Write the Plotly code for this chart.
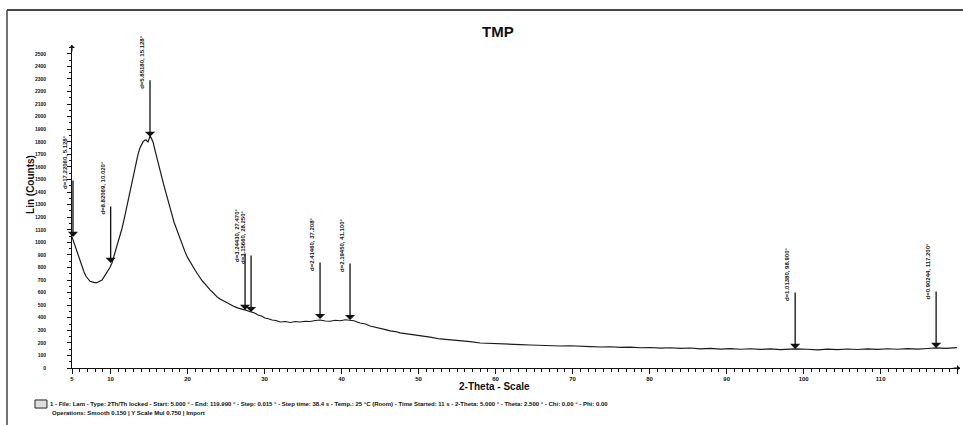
import plotly.graph_objects as go

# ---- data (2-Theta in degrees, intensity in counts) ----
two_theta = [5.00, 5.26, 5.52, 5.78, 6.04, 6.30, 6.56, 6.82, 7.08, 7.34, 7.60, 7.86, 8.12, 8.38,
             8.64, 8.90, 9.16, 9.42, 9.68, 9.94, 10.19, 10.45, 10.71, 10.97, 11.23, 11.49, 11.75,
             12.01, 12.27, 12.53, 12.79, 13.05, 13.31, 13.57, 13.83, 14.03, 14.22, 14.42, 14.61,
             14.74, 14.87, 15.00, 15.13, 15.32, 15.52, 15.71, 15.91, 16.17, 16.43, 16.69, 16.95,
             17.21, 17.47, 17.73, 17.99, 18.25, 18.51, 18.77, 19.03, 19.36, 19.68, 20.00, 20.32,
             20.65, 20.97, 21.30, 21.62, 21.95, 22.27, 22.60, 22.92, 23.25, 23.57, 23.90, 24.22,
             24.55, 24.87, 25.20, 25.52, 25.85, 26.17, 26.50, 26.82, 27.15, 27.47, 27.86, 28.25,
             28.70, 29.16, 29.60, 30.06, 30.50, 30.97, 31.50, 32.01, 32.70, 33.31, 34.00, 34.61,
             35.30, 35.91, 36.60, 37.21, 37.90, 38.51, 39.20, 39.81, 40.50, 41.10, 41.60, 42.40,
             43.10, 43.70, 44.40, 45.00, 45.70, 46.30, 47.00, 47.60, 48.90, 50.20, 51.50, 52.80,
             54.10, 55.40, 56.70, 58.00, 59.30, 60.60, 61.90, 63.20, 64.50, 65.80, 67.10, 68.40,
             69.70, 71.00, 72.30, 73.60, 74.90, 76.20, 77.50, 78.80, 80.10, 81.40, 82.70, 84.00,
             85.30, 86.60, 87.90, 89.20, 90.50, 91.80, 93.10, 94.40, 95.70, 97.00, 98.30, 98.90,
             100.50, 101.80, 103.10, 104.40, 105.70, 107.00, 108.30, 109.60, 110.90, 112.20,
             113.50, 114.80, 116.10, 117.20, 118.50, 119.90]
counts = [1043, 995, 940, 890, 844, 800, 764, 730, 709, 690, 685, 680, 677, 684,
          693, 700, 725, 748, 780, 802, 836, 890, 940, 990, 1051, 1110, 1178, 1255,
          1338, 1420, 1497, 1575, 1640, 1700, 1752, 1780, 1799, 1812, 1815, 1806,
          1799, 1822, 1847, 1825, 1799, 1750, 1696, 1636, 1576, 1510, 1449, 1385,
          1322, 1268, 1218, 1160, 1115, 1066, 1019, 972, 924, 880, 844, 806,
          780, 748, 717, 690, 669, 641, 621, 603, 581, 562, 549, 538,
          525, 515, 502, 494, 486, 478, 470, 466, 462, 452, 446,
          438, 422, 414, 398, 392, 382, 378, 366, 370, 362, 370, 366,
          372, 370, 378, 382, 374, 372, 380, 376, 384, 382, 376, 358,
          350, 334, 322, 311, 305, 295, 290, 279, 270, 255, 246, 231,
          225, 215, 210, 199, 197, 191, 188, 186, 183, 180, 178, 175,
          177, 171, 170, 167, 169, 164, 166, 161, 163, 158, 161, 156,
          159, 152, 156, 150, 154, 149, 153, 148, 152, 146, 150, 152,
          149, 145, 150, 146, 151, 147, 152, 148, 153, 149,
          154, 150, 155, 160, 156, 162]

# ---- peak markers ----
peak_2theta = [5.128, 10.020, 15.128, 27.470, 28.250, 37.208, 41.100, 98.900, 117.200]
peak_counts = [1043, 836, 1839, 462, 446, 390, 382, 152, 160]
peak_labels = ["d=17.22060, 5.128°", "d=8.82069, 10.020°", "d=5.85180, 15.128°",
               "d=3.24430, 27.470°", "d=3.15660, 28.250°", "d=2.41460, 37.208°",
               "d=2.19450, 41.100°", "d=1.01380, 98.900°", "d=0.90244, 117.200°"]

# ---- axes ticks ----
x_tickvals = [5, 10, 20, 30, 40, 50, 60, 70, 80, 90, 100, 110, 120]
x_ticktext = [str(v) for v in x_tickvals]
y_tickvals = list(range(0, 2600, 100))
y_ticktext = [str(v) for v in y_tickvals]

footer1 = ("1 - File: Lam - Type: 2Th/Th locked - Start: 5.000 ° - End: 119.990 ° - Step: 0.015 ° - "
           "Step time: 38.4 s - Temp.: 25 °C (Room) - Time Started: 11 s - 2-Theta: 5.000 ° - "
           "Theta: 2.500 ° - Chi: 0.00 ° - Phi: 0.00")
footer2 = "Operations: Smooth 0.150 | Y Scale Mul 0.750 | Import"

FONT = "Liberation Sans"

fig = go.Figure()
fig.add_trace(go.Scatter(x=two_theta, y=counts, mode="lines",
                         line=dict(color="#1a1a1a", width=1.2), hoverinfo="skip",
                         showlegend=False))

annotations = []
for xv, yv, lab in zip(peak_2theta, peak_counts, peak_labels):
    annotations.append(dict(x=xv, y=yv, xref="x", yref="y", text="", showarrow=True,
                            ax=0, ay=-58, arrowhead=1, arrowsize=1.3, arrowwidth=1.3,
                            arrowcolor="#111", standoff=0))
    annotations.append(dict(x=xv, y=yv, xref="x", yref="y", text=lab, showarrow=False,
                            textangle=-90, xanchor="right", yanchor="bottom",
                            xshift=-3, yshift=46,
                            font=dict(family=FONT, size=6, color="#111", weight="bold")))

# y-axis top arrow and x-axis end arrow
annotations.append(dict(x=0, y=1, xref="paper", yref="paper", text="", showarrow=True,
                        ax=0, ay=8, arrowhead=1, arrowsize=1, arrowwidth=1, arrowcolor="#111"))
annotations.append(dict(x=1, y=0, xref="paper", yref="paper", text="", showarrow=True,
                        ax=-8, ay=0, arrowhead=1, arrowsize=1, arrowwidth=1, arrowcolor="#111"))

# axis titles
annotations.append(dict(x=-0.0545, y=0.567, xref="paper", yref="paper", text="<b>Lin (Counts)</b>",
                        showarrow=False, textangle=-90,
                        font=dict(family=FONT, size=10, color="#111")))
annotations.append(dict(x=0.476, y=-0.079, xref="paper", yref="paper", text="<b>2-Theta - Scale</b>",
                        showarrow=False, font=dict(family=FONT, size=10, color="#111")))
# footer
annotations.append(dict(x=-0.027, y=-0.111, xref="paper", yref="paper", text="<b>" + footer1 + "</b>",
                        showarrow=False, xanchor="left", yanchor="middle",
                        font=dict(family=FONT, size=6, color="#111")))
annotations.append(dict(x=-0.025, y=-0.139, xref="paper", yref="paper", text="<b>" + footer2 + "</b>",
                        showarrow=False, xanchor="left", yanchor="middle",
                        font=dict(family=FONT, size=6, color="#111")))

shapes = [
    # outer frame: top and left lines
    dict(type="line", xref="paper", yref="paper", x0=-0.0732, x1=1.01, y0=1.1084, y1=1.1084,
         line=dict(color="#444", width=2)),
    dict(type="line", xref="paper", yref="paper", x0=-0.0732, x1=-0.0732, y0=1.1084, y1=-0.19,
         line=dict(color="#444", width=1.5)),
    # footer icon box
    dict(type="rect", xref="paper", yref="paper", x0=-0.0417, x1=-0.0282, y0=-0.099, y1=-0.124,
         line=dict(color="#222", width=1), fillcolor="#ddd"),
]

fig.update_layout(
    width=963, height=425,
    margin=dict(l=72, r=3, t=45, b=57),
    paper_bgcolor="white", plot_bgcolor="white",
    title=dict(text="<b>TMP</b>", x=0.517, xanchor="center", y=0.925, yanchor="middle",
               font=dict(family=FONT, size=15, color="#111")),
    annotations=annotations, shapes=shapes, showlegend=False,
)
fig.update_xaxes(range=[5, 120.3], showline=True, linecolor="#111", linewidth=1,
                 showgrid=False, zeroline=False, ticks="outside", ticklen=5, tickwidth=1,
                 tickcolor="#111", tickmode="array", tickvals=x_tickvals, ticktext=x_ticktext,
                 tickfont=dict(family=FONT, size=6, color="#111", weight="bold"),
                 minor=dict(tickmode="linear", tick0=0, dtick=1, ticks="outside", ticklen=3,
                            tickcolor="#111", tickwidth=1))
fig.update_yaxes(range=[0, 2570], showline=True, linecolor="#111", linewidth=1,
                 showgrid=False, zeroline=False, ticks="outside", ticklen=4, tickwidth=1,
                 tickcolor="#111", tickmode="array", tickvals=y_tickvals, ticktext=y_ticktext,
                 ticklabelstandoff=20,
                 tickfont=dict(family=FONT, size=5, color="#111", weight="bold"),
                 minor=dict(tickmode="linear", tick0=0, dtick=50, ticks="outside", ticklen=2.5,
                            tickcolor="#111", tickwidth=1))

fig.write_html("out.html")
